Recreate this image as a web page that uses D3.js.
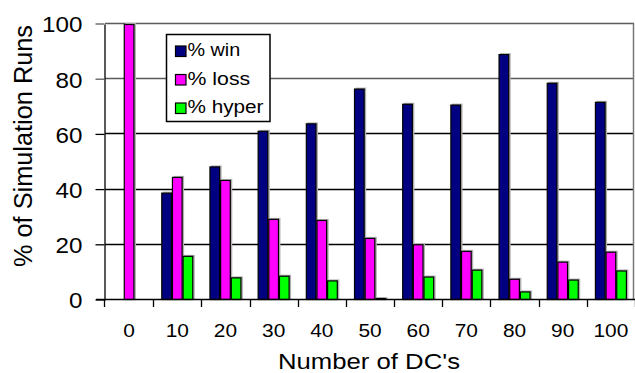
<!DOCTYPE html>
<html>
<head>
<meta charset="utf-8">
<script src="https://cdn.jsdelivr.net/npm/d3@7"></script>
<style>
  html, body { margin: 0; padding: 0; background: #fff; }
  svg { display: block; font-family: "Liberation Sans", Arial, Helvetica, sans-serif; }
</style>
</head>
<body>
<svg id="chart" width="635" height="373"></svg>
<script>
const categories = ["0", "10", "20", "30", "40", "50", "60", "70", "80", "90", "100"];
const seriesNames = ["% win", "% loss", "% hyper"];
const winValues   = [0, 38.9, 48.4, 61.3, 64.0, 76.6, 71.1, 70.8, 89.1, 78.7, 71.8];
const lossValues  = [100, 44.6, 43.5, 29.4, 29.0, 22.5, 20.2, 17.8, 7.7, 13.9, 17.5];
const hyperValues = [0, 16.0, 8.2, 8.8, 7.1, 0.7, 8.5, 11.0, 3.1, 7.4, 10.7];
const seriesColors = ["#000080", "#FF00FF", "#00FF00"];
const yTicks = [0, 20, 40, 60, 80, 100];

(function () {
const seriesValues = [winValues, lossValues, hyperValues];
const data = categories.map((c, i) => ({
  cat: c,
  vals: seriesNames.map((s, j) => ({ key: s, value: seriesValues[j][i], color: seriesColors[j] }))
}));

const svg = d3.select("#chart");
const pL = 105, pR = 635, pT = 24, pB = 300;

const x = d3.scaleBand().domain(categories).range([pL, pR]).paddingInner(0).paddingOuter(0);
const xs = d3.scaleBand().domain(seriesNames).range([8.1, x.bandwidth() - 8.1]).padding(0);
const y = d3.scaleLinear().domain([0, 100]).range([pB, pT]);

// gridlines
const grid = svg.append("g").attr("class", "grid");
grid.selectAll("path").data(yTicks.filter(v => v > 0)).join("path")
  .attr("d", d => `M${pL},${Math.round(y(d)) - 0.5}H${pR - 1}`)
  .attr("stroke", d => (d >= 80 ? "#5a5a5a" : "#000"))
  .attr("stroke-width", 1.5).attr("fill", "none");

// right border
svg.append("path").attr("d", `M${pR - 1.5},${Math.round(y(100)) - 0.5}V${pB}`)
  .attr("stroke", "#777").attr("stroke-width", 1.5).attr("fill", "none");

// bars
const groups = svg.append("g").selectAll("g").data(data).join("g")
  .attr("transform", d => `translate(${x(d.cat)},0)`);
groups.selectAll("rect.shadow").data(d => d.vals.filter(v => v.value > 0)).join("rect")
  .attr("class", "shadow")
  .attr("x", v => xs(v.key) + 1.5).attr("y", v => y(v.value) - 1)
  .attr("width", xs.bandwidth()).attr("height", v => pB - y(v.value))
  .attr("fill", "#b0b0b0");
groups.selectAll("rect.bar").data(d => d.vals.filter(v => v.value > 0)).join("rect")
  .attr("class", "bar")
  .attr("x", v => xs(v.key) + 0.5).attr("y", v => y(v.value) + 0.5)
  .attr("width", xs.bandwidth() - 1).attr("height", v => Math.max(0, pB - y(v.value) - 1))
  .attr("fill", v => v.color).attr("stroke", "#000").attr("stroke-width", 1.2);

// y axis
const yAxis = svg.append("g").attr("transform", `translate(${pL - 0.5},0)`)
  .call(d3.axisLeft(y).tickValues(yTicks).tickSize(9).tickPadding(13).tickSizeOuter(0));
yAxis.select(".domain").attr("stroke", "#000").attr("stroke-width", 1.3);
yAxis.selectAll(".tick line").attr("transform", "translate(0,-0.5)")
  .attr("stroke", d => d >= 80 ? "#5a5a5a" : "#000").attr("stroke-width", 1.3);
yAxis.selectAll("text").attr("font-size", 22).attr("fill", "#000")
  .attr("font-family", "Liberation Sans, Arial, sans-serif").attr("dy", "0.36em");

// x axis: labels via axis, boundary ticks from band edges
const xAxis = svg.append("g").attr("transform", `translate(0,${pB - 0.5})`)
  .call(d3.axisBottom(x).tickSize(0).tickPadding(24));
xAxis.select(".domain").remove();
xAxis.selectAll("text").attr("font-size", 19).attr("fill", "#000")
  .attr("font-family", "Liberation Sans, Arial, sans-serif");
const edges = categories.map(c => x(c)).concat([x.range()[1]]);
svg.append("path").attr("d", `M${pL - 9},${pB - 0.5}H${pR}`).attr("stroke", "#000").attr("stroke-width", 1.3).attr("fill", "none");
svg.append("g").selectAll("path").data(edges).join("path")
  .attr("d", d => { const xx = Math.round(d) + 0.5 - (d === pL ? 1 : 0); return `M${xx},${pB}V${pB + 7}`; })
  .attr("stroke", "#000").attr("stroke-width", 1.3).attr("fill", "none");

// stretch tick text horizontally as in the reference
function stretch(sel, f) {
  sel.each(function () {
    const w = this.getComputedTextLength();
    d3.select(this).attr("textLength", w * f).attr("lengthAdjust", "spacingAndGlyphs");
  });
}
stretch(yAxis.selectAll("text"), 1.1);
stretch(xAxis.selectAll("text"), 1.1);

// axis titles
svg.append("text").attr("x", 369).attr("y", 368.5).attr("text-anchor", "middle")
  .attr("font-size", 22).attr("textLength", 182).attr("lengthAdjust", "spacingAndGlyphs")
  .text("Number of DC's");
svg.append("text").attr("transform", "rotate(-90)").attr("x", -146).attr("y", 31.5)
  .attr("text-anchor", "middle").attr("font-size", 25)
  .attr("textLength", 242).attr("lengthAdjust", "spacingAndGlyphs")
  .text("% of Simulation Runs");

// legend
const legend = svg.append("g");
legend.append("path").attr("d", "M166.5,34.5H270V121.5H166.5Z")
  .attr("fill", "#fff").attr("stroke", "#000").attr("stroke-width", 1.5);
const legendWidths = [52.7, 62.7, 76];
const li = legend.selectAll("g").data(seriesNames).join("g")
  .attr("transform", (d, i) => `translate(0,${i * 28.5})`);
li.append("rect").attr("x", 175.5).attr("y", 46).attr("width", 10.5).attr("height", 10.5)
  .attr("fill", (d, i) => seriesColors[i]).attr("stroke", "#000").attr("stroke-width", 1.2);
li.append("text").attr("x", 187.5).attr("y", 56).attr("font-size", 18)
  .attr("textLength", (d, i) => legendWidths[i]).attr("lengthAdjust", "spacingAndGlyphs")
  .text(d => d);
})();
</script>
</body>
</html>
